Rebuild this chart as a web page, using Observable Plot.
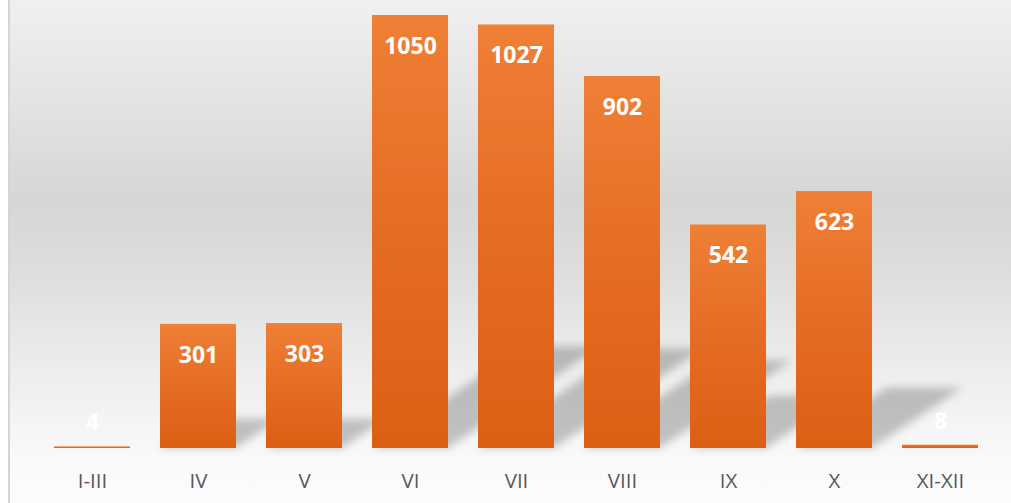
<!DOCTYPE html>
<html>
<head>
<meta charset="utf-8">
<script src="https://cdn.jsdelivr.net/npm/d3@7"></script>
<script src="https://cdn.jsdelivr.net/npm/@observablehq/plot@0.6"></script>
<style>
  html, body { margin: 0; padding: 0; background: #ffffff; }
  #wrap { position: relative; width: 1011px; height: 503px; overflow: hidden; }
  #bg { position: absolute; left: 10px; top: 0; width: 1001px; height: 503px;
        background: linear-gradient(to bottom, #f0f0f0 0%, #e2e2e2 22%, #d6d6d6 40%, #dedede 55%, #e9e9e9 68%, #f3f3f3 82%, #fafafa 92%, #fcfcfc 100%); }
  #edge { position: absolute; left: 8px; top: 0; width: 2px; height: 503px; background: #d5d5d5; }
  #chart { position: absolute; left: 0; top: 0; }
</style>
</head>
<body>
<div id="wrap"><div id="bg"></div><div id="edge"></div><div id="chart"></div></div>
<script>
const months = ["I-III", "IV", "V", "VI", "VII", "VIII", "IX", "X", "XI-XII"];
const counts = [4, 301, 303, 1050, 1027, 902, 542, 623, 8];

const data = months.map((m, i) => ({month: m, count: counts[i]}));

// perspective shadow drawn from the scales
function shadows(index, scales) {
  const sx = scales.x, sy = scales.y;
  const bw = typeof sx.bandwidth === "function" ? sx.bandwidth()
           : (sx(months[1]) - sx(months[0])) * (1 - 0.285);
  const ns = "http://www.w3.org/2000/svg";
  const g = document.createElementNS(ns, "g");
  g.setAttribute("filter", "url(#shadowBlur)");
  g.setAttribute("fill", "#000");
  g.setAttribute("fill-opacity", "0.22");
  const y0 = sy(0);
  for (const d of data) {
    const x0 = sx(d.month), x1 = x0 + bw;
    const h = y0 - sy(d.count);
    const s = 0.235 * h, dx = 1.5 * s;
    const p = document.createElementNS(ns, "polygon");
    p.setAttribute("points", `${x0},${y0} ${x1},${y0} ${x1 + dx},${y0 - s} ${x0 + dx},${y0 - s}`);
    g.appendChild(p);
  }
  return g;
}

const chart = Plot.plot({
  width: 1011,
  height: 503,
  marginTop: 15,
  marginBottom: 55,
  marginLeft: 32,
  marginRight: 11,
  style: {background: "transparent", fontFamily: "'Open Sans', sans-serif", color: "#595959"},
  x: {domain: months, paddingInner: 0.285, paddingOuter: 0.2, label: null},
  y: {domain: [0, 1050], axis: null},
  marks: [
    shadows,
    Plot.barY(data, {x: "month", y: "count", fill: "#e8732b"}),
    Plot.text(data.filter(d => d.count >= 50), {x: "month", y: "count", text: d => String(d.count),
      dy: 31, fill: "white", fontWeight: "bold", fontSize: 23}),
    Plot.text(data.filter(d => d.count < 50), {x: "month", y: "count", text: d => String(d.count),
      dy: -24, fill: "white", fontWeight: "bold", fontSize: 23}),
    Plot.axisX({tickSize: 0, tickPadding: 25, fontSize: 20.5, fill: "#595959", label: null})
  ]
});

const ns = "http://www.w3.org/2000/svg";
const defs = document.createElementNS(ns, "defs");
defs.innerHTML = `
  <linearGradient id="barGrad" x1="0" y1="0" x2="0" y2="1">
    <stop offset="0" stop-color="#ef8036"/>
    <stop offset="0.5" stop-color="#e56c23"/>
    <stop offset="1" stop-color="#db6014"/>
  </linearGradient>
  <filter id="shadowBlur" x="-20%" y="-20%" width="140%" height="140%">
    <feGaussianBlur stdDeviation="4"/>
  </filter>`;
chart.insertBefore(defs, chart.firstChild);
chart.querySelectorAll('g[aria-label="bar"]').forEach(g => {
  g.setAttribute("fill", "url(#barGrad)");
  g.querySelectorAll("rect").forEach(r => r.setAttribute("fill", "url(#barGrad)"));
});
document.getElementById("chart").appendChild(chart);
</script>
</body>
</html>
